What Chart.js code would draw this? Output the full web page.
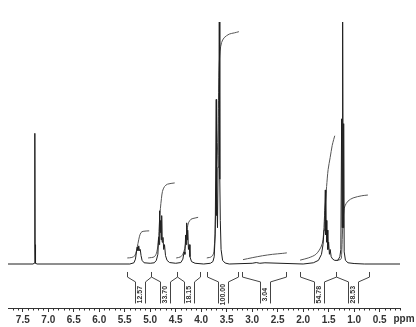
<!DOCTYPE html>
<html>
<head>
<meta charset="utf-8">
<script src="https://cdn.jsdelivr.net/npm/chart.js@4.4.1/dist/chart.umd.min.js"></script>
<style>
  body { margin: 0; background: #fff; }
  #wrap { width: 416px; height: 327px; }
</style>
</head>
<body>
<div id="wrap"><canvas id="nmr" width="416" height="327"></canvas></div>
<script>
// Spectrum (ppm, intensity)
const specPpm = [7.79, 7.30, 7.275, 7.265, 7.262, 7.258, 7.25, 7.22,
  5.40, 5.32, 5.29, 5.27, 5.255, 5.24, 5.225, 5.21, 5.195, 5.18, 5.16, 5.12, 5.0,
  4.92, 4.88, 4.85, 4.835, 4.825, 4.815, 4.805, 4.795, 4.785, 4.775, 4.765, 4.75, 4.735, 4.72, 4.70, 4.67, 4.62, 4.50,
  4.40, 4.36, 4.335, 4.32, 4.305, 4.295, 4.285, 4.275, 4.265, 4.25, 4.235, 4.22, 4.19, 4.12, 3.95,
  3.82, 3.77, 3.745, 3.725, 3.705, 3.70, 3.695, 3.68, 3.67, 3.655, 3.645, 3.635, 3.625, 3.61, 3.58, 3.53, 3.45,
  3.0, 2.92, 2.85, 2.75, 2.0,
  1.80, 1.70, 1.64, 1.61, 1.59, 1.575, 1.565, 1.555, 1.545, 1.535, 1.525, 1.515, 1.50, 1.485, 1.47, 1.45, 1.42, 1.38,
  1.32, 1.28, 1.26, 1.245, 1.235, 1.225, 1.215, 1.205, 1.195, 1.17, 1.12, 1.0, 0.8, 0.1];
const specInt = [0, 0, 0.3, 8, 54, 8, 0.3, 0,
  0, 0.5, 2, 5, 7, 5.5, 7.5, 5.5, 6, 3.5, 1.5, 0.5, 0.3,
  0.5, 1.5, 4, 11, 8, 22, 13, 18, 10, 20, 9, 11, 6, 8, 3.5, 1.5, 0.6, 0.3,
  0.6, 2, 5, 4, 12, 8, 17, 10, 14, 6, 8, 3, 1, 0.3, 0,
  0.3, 1, 3, 12, 68, 20, 30, 15, 40, 45, 100, 35, 18, 6, 1.5, 0.4, 0,
  0.3, 0.6, 0.3, 0.5, 0,
  0.5, 1.5, 4, 8, 14, 22, 30.6, 12, 18, 9, 14, 6, 9, 4, 6, 3, 2, 1.5,
  1.5, 3, 6, 60, 15, 100, 15, 58, 5, 1.5, 0.5, 0.2, 0, 0];

// Integral curves
const int1Ppm = [5.45, 5.36, 5.30, 5.27, 5.24, 5.21, 5.18, 5.14, 5.02];
const int1Val = [2.5, 2.7, 3.5, 5.5, 8.5, 11.5, 13, 13.5, 13.7];
const int2Ppm = [5.04, 4.92, 4.87, 4.84, 4.82, 4.80, 4.78, 4.76, 4.72, 4.66, 4.52];
const int2Val = [2.5, 3, 5, 10, 17, 23, 27, 30, 32, 33, 33.5];
const int3Ppm = [4.49, 4.40, 4.34, 4.31, 4.29, 4.27, 4.25, 4.20, 4.12, 4.06];
const int3Val = [2.5, 3, 5, 8, 12, 15, 17, 18.5, 19, 19.3];
const int4Ppm = [3.89, 3.80, 3.75, 3.72, 3.70, 3.67, 3.65, 3.63, 3.60, 3.55, 3.45, 3.35, 3.26];
const int4Val = [2.5, 3, 5, 20, 35, 55, 80, 88, 91.5, 93.5, 95, 95.5, 96];
const int5Ppm = [3.18, 3.0, 2.8, 2.6, 2.4, 2.32];
const int5Val = [1.8, 2.6, 3.4, 4.0, 4.4, 4.6];
const int6Ppm = [2.06, 1.90, 1.75, 1.65, 1.61, 1.58, 1.55, 1.54, 1.51, 1.47, 1.43, 1.40, 1.38];
const int6Val = [1.6, 2.5, 4, 7, 10, 20, 29, 32, 39, 44, 49, 51.5, 53];
const int7Ppm = [1.34, 1.26, 1.245, 1.23, 1.22, 1.20, 1.18, 1.12, 1.02, 0.85, 0.73];
const int7Val = [1.5, 2, 4, 12, 17, 22, 24, 26, 27.3, 28.2, 28.5];

// Integration regions and values
const regionFrom = [5.45, 4.98, 4.47, 3.89, 3.20, 2.06, 1.36];
const regionTo = [4.98, 4.47, 4.02, 3.27, 2.34, 1.36, 0.71];
const regionLabels = ["12.57", "33.70", "18.15", "100.00", "3.04", "54.78", "28.53"];

// Axis tick labels
const majorTicks = [7.5, 7.0, 6.5, 6.0, 5.5, 5.0, 4.5, 4.0, 3.5, 3.0, 2.5, 2.0, 1.5, 1.0, 0.5];

const pts = (xs, ys) => xs.map((x, i) => ({ x: x, y: ys[i] }));

const integrals = [
  [int1Ppm, int1Val], [int2Ppm, int2Val], [int3Ppm, int3Val], [int4Ppm, int4Val],
  [int5Ppm, int5Val], [int6Ppm, int6Val], [int7Ppm, int7Val]
];

const datasets = [{
  data: pts(specPpm, specInt),
  borderColor: "#1e1e1e",
  borderWidth: 1,
  pointRadius: 0,
  tension: 0,
  clip: false
}];
integrals.forEach(c => {
  datasets.push({
    data: pts(c[0], c[1]),
    borderColor: "#555",
    borderWidth: 1,
    pointRadius: 0,
    tension: 0.3,
    clip: false
  });
});

// brackets, integral values, minor ticks, "ppm"
const decor = {
  id: "decor",
  afterDatasetsDraw(chart) {
    const ctx = chart.ctx;
    const xs = chart.scales.x, ys = chart.scales.y;
    ctx.save();
    ctx.strokeStyle = "#444";
    ctx.lineWidth = 1;
    const yTop = ys.getPixelForValue(-3.3);
    const yEnd = ys.getPixelForValue(-5.4);
    const yMid = ys.getPixelForValue(-7.4);
    const yBot = ys.getPixelForValue(-16.3);
    regionFrom.forEach((from, i) => {
      const xl = Math.round(xs.getPixelForValue(from)) + 0.5;
      const xr = Math.round(xs.getPixelForValue(regionTo[i])) + 0.5;
      const xc = Math.round((xl + xr) / 2) + 0.5;
      ctx.beginPath();
      ctx.moveTo(xl, yTop);
      ctx.lineTo(xl, yEnd);
      ctx.lineTo(xc - 5, yMid);
      ctx.lineTo(xc - 5, yBot);
      ctx.moveTo(xr, yTop);
      ctx.lineTo(xr, yEnd);
      ctx.lineTo(xc + 5, yMid);
      ctx.lineTo(xc + 5, yBot);
      ctx.stroke();
      ctx.save();
      ctx.translate(xc, (yMid + yBot) / 2 + 2);
      ctx.rotate(-Math.PI / 2);
      ctx.fillStyle = "#333";
      ctx.font = "bold 7px 'Liberation Sans', Arial, sans-serif";
      ctx.textAlign = "center";
      ctx.textBaseline = "middle";
      ctx.fillText(regionLabels[i], 0, 0);
      ctx.restore();
    });
    // minor ticks every 0.1 ppm
    const axisY = xs.top;
    ctx.strokeStyle = "#333";
    ctx.beginPath();
    for (let k = 1; k <= 77; k++) {
      const v = k / 10;
      if (v < xs.min || v > xs.max || k % 5 === 0) continue;
      const px = Math.round(xs.getPixelForValue(v)) + 0.5;
      ctx.moveTo(px, axisY);
      ctx.lineTo(px, axisY + 2.5);
    }
    ctx.stroke();
    ctx.fillStyle = "#333";
    ctx.font = "bold 10px 'Liberation Sans Narrow', 'Liberation Sans', Arial, sans-serif";
    ctx.textAlign = "center";
    ctx.textBaseline = "middle";
    ctx.fillText("ppm", xs.right + 4, axisY + 11);
    ctx.restore();
  }
};

new Chart(document.getElementById("nmr"), {
  type: "line",
  data: { datasets: datasets },
  options: {
    responsive: false,
    animation: false,
    layout: { padding: { top: 22, left: 8, right: 16, bottom: 0 } },
    plugins: { legend: { display: false }, tooltip: { enabled: false } },
    scales: {
      x: {
        type: "linear",
        reverse: true,
        min: 0.1,
        max: 7.79,
        afterBuildTicks: s => { s.ticks = majorTicks.map(v => ({ value: v })); },
        afterFit: s => { s.height = 19; },
        border: { display: true, color: "#333", width: 1 },
        grid: { display: true, drawOnChartArea: false, drawTicks: true, tickLength: 4, color: "#333" },
        ticks: {
          autoSkip: false,
          maxRotation: 0,
          padding: 2,
          color: "#333",
          font: { family: "'Liberation Sans Narrow', 'Liberation Sans', Arial, sans-serif", size: 10, weight: "bold" },
          callback: v => v.toFixed(1)
        }
      },
      y: {
        display: false,
        min: -18.18,
        max: 100
      }
    }
  },
  plugins: [decor]
});
</script>
</body>
</html>
